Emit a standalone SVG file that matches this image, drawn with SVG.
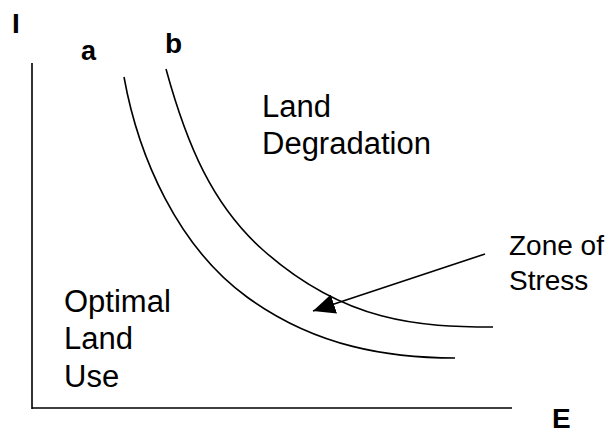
<svg xmlns="http://www.w3.org/2000/svg" width="607" height="433" viewBox="0 0 607 433">
<defs>
<style>
.t{font-family:"Liberation Sans",Arial,sans-serif;fill:#000}
.b{font-weight:bold}
.ln{fill:none;stroke:#000;stroke-width:1.6}
</style>
<marker id="ah" viewBox="0 0 22 20" refX="22" refY="10" markerWidth="22" markerHeight="20" markerUnits="userSpaceOnUse" orient="auto">
<path d="M0,0 L22,10 L0,20 z" fill="#000"/>
</marker>
</defs>
<rect width="607" height="433" fill="#fff"/>
<g id="axes">
<path class="ln" d="M32,63 V409 M32,408 H512"/>
<text class="t b" x="12" y="33" font-size="28">I</text>
<text class="t b" x="552" y="428" font-size="28">E</text>
</g>
<g id="curve-a">
<path class="ln" d="M124,77 C138.4,157 177.7,246.6 247,297 C316.3,347.4 390,358 455,358"/>
<text class="t b" x="81" y="60" font-size="27">a</text>
</g>
<g id="curve-b">
<path class="ln" d="M166,69 C187,145.5 212.6,205.2 263,250 C344.9,322.8 420,327 493,327"/>
<text class="t b" x="165" y="53" font-size="28">b</text>
</g>
<g id="land-degradation">
<text class="t" font-size="31"><tspan x="262" y="117">Land</tspan><tspan x="262" y="154">Degradation</tspan></text>
</g>
<g id="optimal-land-use">
<text class="t" font-size="31"><tspan x="64" y="312">Optimal</tspan><tspan x="64" y="349">Land</tspan><tspan x="64" y="387">Use</tspan></text>
</g>
<g id="zone-of-stress">
<text class="t" font-size="28"><tspan x="509" y="255">Zone of</tspan><tspan x="509" y="290">Stress</tspan></text>
</g>
<g id="connectors">
<line class="ln" x1="485" y1="254" x2="313" y2="311" marker-end="url(#ah)"/>
</g>
</svg>
